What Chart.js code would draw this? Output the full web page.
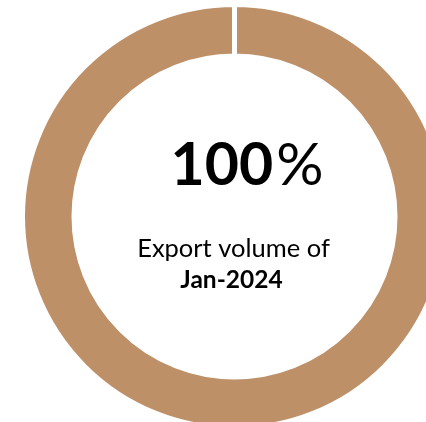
<!DOCTYPE html>
<html>
<head>
<meta charset="utf-8">
<script src="https://cdn.jsdelivr.net/npm/chart.js@4/dist/chart.umd.min.js"></script>
<style>
  html, body { margin: 0; padding: 0; width: 426px; height: 422px; overflow: hidden; background: #fff; }
  #wrap { position: absolute; left: 22px; top: 4px; width: 425px; height: 425px; }
</style>
</head>
<body>
<div id="wrap"><canvas id="chart"></canvas></div>
<script>
// -------------------------
// Data
// -------------------------
const labels = ["Jan-2024"];
const values = [100];
const caption = "Export volume of";
const sliceColors = ["#BD9068"];

// texto en el centro del donut
const centerText = {
  id: "centerText",
  afterDraw(chart) {
    const ctx = chart.ctx;
    const arc = chart.getDatasetMeta(0).data[0];
    const cx = arc.x, cy = arc.y;
    const num = String(values[0]);

    ctx.save();
    ctx.fillStyle = "#000";
    ctx.textBaseline = "alphabetic";

    ctx.font = "bold 59px Lato";
    const numW = ctx.measureText(num).width;
    ctx.font = "59px Lato";
    const pctW = ctx.measureText("%").width;
    const left = cx - (numW + pctW) / 2 + 11;
    ctx.textAlign = "left";
    ctx.font = "bold 59px Lato";
    ctx.fillText(num, left, cy - 31.5);
    ctx.font = "59px Lato";
    ctx.fillText("%", left + numW + 3, cy - 31.5);

    ctx.textAlign = "center";
    ctx.font = "25.5px Lato";
    ctx.fillText(caption, cx - 1, cy + 40);
    ctx.font = "bold 24.5px Lato";
    ctx.fillText(labels[0], cx - 3, cy + 71.5);
    ctx.restore();
  }
};

const chart = new Chart(document.getElementById("chart"), {
  type: "doughnut",
  data: {
    labels: labels,
    datasets: [{
      data: values,
      backgroundColor: sliceColors,
      borderColor: "#fff",
      borderWidth: 5,
      hoverOffset: 0
    }]
  },
  options: {
    responsive: true,
    maintainAspectRatio: false,
    animation: false,
    radius: 212,
    cutout: 159,
    plugins: {
      legend: { display: false },
      tooltip: { enabled: false }
    }
  },
  plugins: [centerText]
});
</script>
</body>
</html>
